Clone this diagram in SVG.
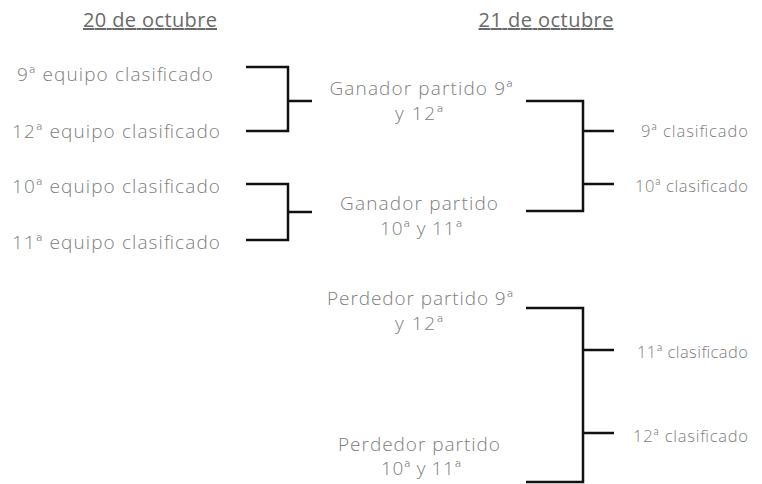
<svg xmlns="http://www.w3.org/2000/svg" width="762" height="484" viewBox="0 0 762 484">
<style>
text{font-family:"Open Sans","Noto Sans",sans-serif;fill:#808080;font-weight:300;text-anchor:middle}
.t{font-size:20px;fill:#6a6a6a;font-weight:400;text-decoration:underline}
.l{font-size:19px}
.s{font-size:16.5px;text-anchor:end}
.c{fill:none;stroke:#111;stroke-width:2.5}
</style>
<rect width="762" height="484" fill="#fff"/>
<g id="title-20"><text class="t" x="150" y="27" textLength="134">20 de octubre</text></g>
<g id="title-21"><text class="t" x="546" y="27" textLength="135">21 de octubre</text></g>
<g id="n9"><text class="l" x="115" y="81" textLength="196">9ª equipo clasificado</text></g>
<g id="n12"><text class="l" x="116" y="138" textLength="208">12ª equipo clasificado</text></g>
<g id="n10"><text class="l" x="116" y="193" textLength="208">10ª equipo clasificado</text></g>
<g id="n11"><text class="l" x="116" y="249" textLength="208">11ª equipo clasificado</text></g>
<g id="g1"><text class="l" x="421" y="95" textLength="183">Ganador partido 9ª</text><text class="l" x="419" y="120" textLength="48">y 12ª</text></g>
<g id="g2"><text class="l" x="419" y="210" textLength="158">Ganador partido</text><text class="l" x="421" y="235" textLength="82">10ª y 11ª</text></g>
<g id="p1"><text class="l" x="420" y="305" textLength="186">Perdedor partido 9ª</text><text class="l" x="419" y="330" textLength="48">y 12ª</text></g>
<g id="p2"><text class="l" x="419" y="451" textLength="162">Perdedor partido</text><text class="l" x="421" y="475" textLength="80">10ª y 11ª</text></g>
<g id="r9"><text class="s" x="748" y="137" textLength="107">9ª clasificado</text></g>
<g id="r10"><text class="s" x="748" y="192" textLength="113">10ª clasificado</text></g>
<g id="r11"><text class="s" x="748" y="358" textLength="111">11ª clasificado</text></g>
<g id="r12"><text class="s" x="748" y="442" textLength="115">12ª clasificado</text></g>
<g id="connectors" class="c">
<path class="c" d="M246 67H288V131H246M288 101H312"/>
<path class="c" d="M246 184H288V240H246M288 212H312"/>
<path class="c" d="M526 101H583V211H526M583 131H614M583 184H614"/>
<path class="c" d="M526 308H583V482H526M583 350H614M583 433H614"/>
</g>
</svg>
